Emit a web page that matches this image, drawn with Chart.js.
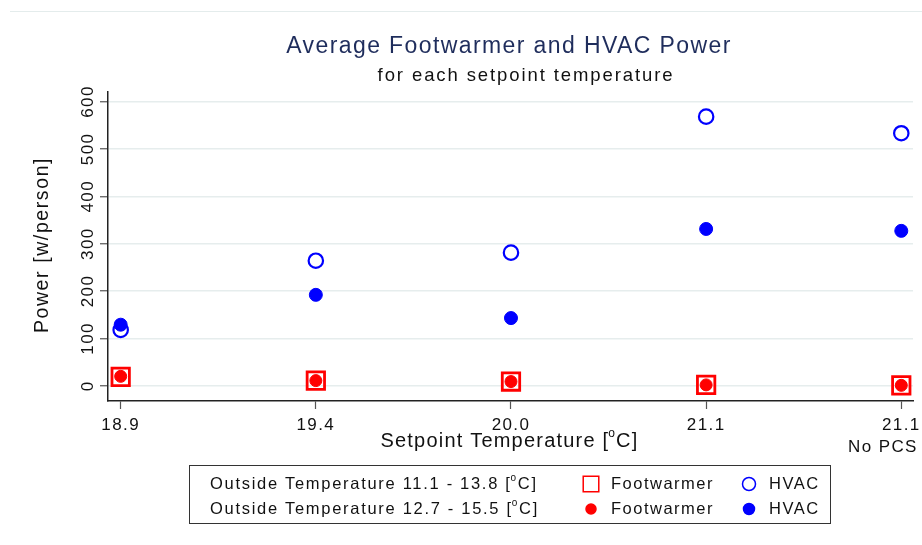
<!DOCTYPE html>
<html>
<head>
<meta charset="utf-8">
<script src="https://cdn.jsdelivr.net/npm/chart.js@4.4.1/dist/chart.umd.min.js"></script>
<style>
  html, body { margin: 0; padding: 0; background: #fff; }
  #wrap { width: 922px; height: 545px; position: relative; }
</style>
</head>
<body>
<div id="wrap"><canvas id="powerChart" width="922" height="545"></canvas></div>
<script>
// ----- data -----
// trailing spaces nudge "No PCS" left so it fits like the original
const setpoints = ['18.9', '19.4', '20.0', '21.1', ['21.1', 'No PCS      ']];
const yTicks = [0, 100, 200, 300, 400, 500, 600];

// Outside temperature 11.1 - 13.8 (open markers)
const footwarmerA = [19, 11, 9, 2, 1];
const hvacA = [118, 264, 281, 568, 533];
// Outside temperature 12.7 - 15.5 (filled markers)
const footwarmerB = [20, 11, 9, 2, 1];
const hvacB = [129, 192, 143, 331, 327];

const legendRows = ['Outside Temperature 11.1 - 13.8 [', 'Outside Temperature 12.7 - 15.5 ['];

const RED = '#ff0000';
const BLUE = '#0000ff';
const FONT = "'Liberation Sans', Arial, sans-serif";

const toPoints = arr => arr.map((v, i) => ({ x: i, y: v }));

// draw text with letter spacing, returns width
function spacedText(ctx, text, x, y, size, spacing, align, color) {
    ctx.save();
    ctx.font = size + 'px ' + FONT;
    ctx.letterSpacing = spacing + 'px';
    ctx.fillStyle = color || '#111';
    ctx.textBaseline = 'middle';
    const w = ctx.measureText(text).width;
    let sx = x;
    if (align === 'center') sx = x - w / 2;
    if (align === 'right') sx = x - w;
    ctx.textAlign = 'left';
    ctx.fillText(text, sx, y);
    ctx.restore();
    return w;
}

// "[°C]" style with a small raised o
function degreeText(ctx, before, x, y, size, spacing, align) {
    ctx.save();
    ctx.font = size + 'px ' + FONT;
    ctx.letterSpacing = spacing + 'px';
    const w1 = ctx.measureText(before).width;
    ctx.font = Math.round(size * 0.6) + 'px ' + FONT;
    const wo = ctx.measureText('o').width;
    ctx.font = size + 'px ' + FONT;
    const w2 = ctx.measureText('C]').width;
    const total = w1 + wo + w2;
    let sx = x;
    if (align === 'center') sx = x - total / 2;
    ctx.restore();
    spacedText(ctx, before, sx, y, size, spacing, 'left');
    spacedText(ctx, 'o', sx + w1 - 1, y - size * 0.35, Math.round(size * 0.6), 0, 'left');
    spacedText(ctx, 'C]', sx + w1 + wo - 1, y, size, spacing, 'left');
}

const annotations = {
    id: 'annotations',
    beforeDraw(chart) {
        const ctx = chart.ctx;
        ctx.save();
        ctx.strokeStyle = '#e4ecec';
        ctx.lineWidth = 1;
        ctx.beginPath();
        ctx.moveTo(10, 11.5);
        ctx.lineTo(922, 11.5);
        ctx.stroke();
        ctx.restore();
        ctx.letterSpacing = '1.4px';
    },
    afterDraw(chart) {
        const ctx = chart.ctx;
        ctx.letterSpacing = '0px';
        spacedText(ctx, 'Average Footwarmer and HVAC Power', 509, 47, 23, 1.4, 'center', '#1f2d5c');
        spacedText(ctx, 'for each setpoint temperature', 526, 76, 18.5, 1.9, 'center', '#111');

        // y axis title
        ctx.save();
        ctx.translate(43, 245);
        ctx.rotate(-Math.PI / 2);
        spacedText(ctx, 'Power [w/person]', 0, 0, 19.5, 1.6, 'center', '#111');
        ctx.restore();

        // x axis title
        degreeText(ctx, 'Setpoint Temperature [', 510, 441, 20, 1.2, 'center');

        // legend box
        ctx.save();
        ctx.strokeStyle = '#333';
        ctx.lineWidth = 1;
        ctx.strokeRect(189.5, 465.5, 641, 58);
        ctx.restore();

        const rowY = [484, 509];
        const ds = chart.data.datasets;
        const symbols = [[ds[0], ds[1]], [ds[2], ds[3]]];
        rowY.forEach((y, r) => {
            degreeText(ctx, legendRows[r], 210, y, 16.5, 1.7, 'left');
            const [fw, hv] = symbols[r];
            ctx.save();
            ctx.strokeStyle = fw.borderColor;
            ctx.fillStyle = fw.backgroundColor;
            ctx.lineWidth = 1.5;
            Chart.helpers.drawPoint(ctx, {
                pointStyle: fw.pointStyle,
                radius: fw.pointStyle === 'rect' ? 11 : 5,
                borderWidth: 1.5
            }, 591, y);
            ctx.strokeStyle = hv.borderColor;
            ctx.fillStyle = hv.backgroundColor;
            Chart.helpers.drawPoint(ctx, {
                pointStyle: 'circle',
                radius: hv.backgroundColor === 'transparent' ? 6.5 : 5.5,
                borderWidth: 1.5
            }, 749, y);
            ctx.restore();
            spacedText(ctx, 'Footwarmer', 611, y, 16.5, 1.5, 'left');
            spacedText(ctx, 'HVAC', 769, y, 16.5, 1.5, 'left');
        });
    }
};

const noPad = s => { s.paddingLeft = 0; s.paddingRight = 0; s.paddingTop = 0; s.paddingBottom = 0; };

const chart = new Chart(document.getElementById('powerChart'), {
    type: 'scatter',
    data: {
        datasets: [
            {
                label: 'Footwarmer',
                data: toPoints(footwarmerA),
                pointStyle: 'rect',
                pointRadius: 12.3,
                borderWidth: 2.8,
                borderColor: RED,
                backgroundColor: 'transparent',
                order: 0
            },
            {
                label: 'HVAC',
                data: toPoints(hvacA),
                pointStyle: 'circle',
                pointRadius: 7.2,
                borderWidth: 2.2,
                borderColor: BLUE,
                backgroundColor: 'transparent',
                order: 1
            },
            {
                label: 'Footwarmer',
                data: toPoints(footwarmerB),
                pointStyle: 'circle',
                pointRadius: 6,
                borderWidth: 1,
                borderColor: RED,
                backgroundColor: RED,
                order: 2
            },
            {
                label: 'HVAC',
                data: toPoints(hvacB),
                pointStyle: 'circle',
                pointRadius: 6.5,
                borderWidth: 1,
                borderColor: BLUE,
                backgroundColor: BLUE,
                order: 3
            }
        ]
    },
    options: {
        responsive: false,
        animation: false,
        events: [],
        layout: { autoPadding: false, padding: { left: 0, right: 9, top: 92, bottom: 0 } },
        plugins: {
            legend: { display: false },
            tooltip: { enabled: false },
            title: { display: false }
        },
        scales: {
            x: {
                type: 'linear',
                min: -0.065,
                max: 4.06,
                afterBuildTicks: s => { s.ticks = setpoints.map((_, i) => ({ value: i })); },
                afterFit: s => { s.height = 144; noPad(s); },
                grid: { drawOnChartArea: false, tickLength: 8, tickColor: '#555', tickWidth: 1.2 },
                border: { color: '#222', width: 1.5 },
                ticks: {
                    color: '#111',
                    padding: 5,
                    maxRotation: 0,
                    autoSkip: false,
                    font: { family: FONT, size: 17, lineHeight: 1.3 },
                    callback: v => setpoints[v]
                }
            },
            y: {
                min: -32,
                max: 620,
                afterBuildTicks: s => { s.ticks = yTicks.map(v => ({ value: v })); },
                afterFit: s => { s.width = 108; noPad(s); },
                grid: { color: '#e6eded', lineWidth: 1.5, tickLength: 8, tickColor: '#555', tickWidth: 1.2 },
                border: { color: '#222', width: 1.5 },
                ticks: {
                    color: '#111',
                    padding: -2,
                    minRotation: 90,
                    maxRotation: 90,
                    crossAlign: 'center',
                    font: { family: FONT, size: 17 }
                }
            }
        }
    },
    plugins: [annotations]
});
</script>
</body>
</html>
